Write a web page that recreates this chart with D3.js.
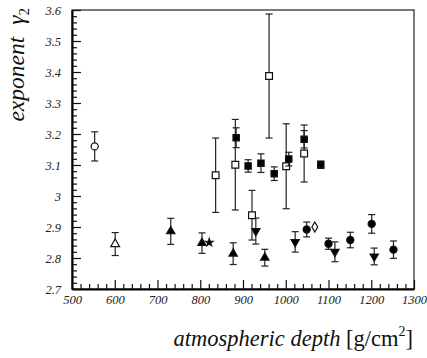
<!DOCTYPE html>
<html>
<head>
<meta charset="utf-8">
<script src="https://cdn.jsdelivr.net/npm/d3@7"></script>
<style>
body{margin:0;background:#fff;}
.tick text{font-family:"Liberation Serif",serif;font-style:italic;font-size:12.5px;fill:#222;}
</style>
</head>
<body>
<div class="canvas"></div>
<script>
// data: depth [g/cm2], exponent, error
const openCircleX=[553], openCircleY=[3.16], openCircleE=[0.047];
const openTriX=[601], openTriY=[2.845], openTriE=[0.037];
const filledTriX=[731,804,877,951], filledTriY=[2.886,2.848,2.814,2.801], filledTriE=[0.042,0.033,0.035,0.027];
const starX=[821], starY=[2.85];
const invTriX=[930,1022,1115,1207], invTriY=[2.887,2.852,2.82,2.805], invTriE=[0.042,0.033,0.032,0.027];
const filledCircX=[1049,1100,1151,1201,1252], filledCircY=[2.892,2.846,2.858,2.91,2.827], filledCircE=[0.024,0.018,0.025,0.03,0.028];
const diamondX=[1068], diamondY=[2.9];
const openSqX=[836,882,921,961,1001,1043], openSqY=[3.067,3.101,2.938,3.387,3.096,3.137], openSqE=[0.12,0.146,0.08,0.2,0.137,0.092];
const filledSqX=[884,912,942,973,1007,1043,1082], filledSqY=[3.188,3.097,3.106,3.072,3.119,3.183,3.101], filledSqE=[0.032,0.02,0.03,0.022,0.022,0.028,0.012];

const xTicks=[500,600,700,800,900,1000,1100,1200,1300];
const yTicks=[2.7,2.8,2.9,3,3.1,3.2,3.3,3.4,3.5,3.6];

const W=427,H=358;
const margin={top:10,right:13,bottom:69,left:72};
const gw=W-margin.left-margin.right, gh=H-margin.top-margin.bottom;

const svg=d3.select('.canvas').append('svg').attr('width',W).attr('height',H);
const graph=svg.append('g').attr('transform',`translate(${margin.left},${margin.top})`);

const x=d3.scaleLinear().domain([500,1300]).range([0,gw]);
const y=d3.scaleLinear().domain([2.7,3.6]).range([gh,0]);

// frame (top and right)
graph.append('rect').attr('width',gw).attr('height',gh)
  .attr('fill','none').attr('stroke','#333').attr('stroke-width',1.3);

// minor ticks
const xMinor=d3.range(500,1301,20).filter(v=>v%100!==0);
const yMinor=d3.range(270,361,2).map(v=>v/100).filter(v=>Math.round(v*100)%10!==0);
graph.append('g').attr('transform',`translate(0,${gh})`)
  .call(d3.axisBottom(x).tickValues(xMinor).tickSize(-5).tickFormat(''))
  .call(g=>g.select('.domain').remove());
graph.append('g')
  .call(d3.axisLeft(y).tickValues(yMinor).tickSize(-5).tickFormat(''))
  .call(g=>g.select('.domain').remove());

// major axes
const xAxisGroup=graph.append('g').attr('transform',`translate(0,${gh})`)
  .call(d3.axisBottom(x).tickValues(xTicks).tickSizeInner(-9).tickSizeOuter(0).tickPadding(6).tickFormat(d3.format('d')));
const yAxisGroup=graph.append('g')
  .call(d3.axisLeft(y).tickValues(yTicks).tickSizeInner(-9).tickSizeOuter(0).tickPadding(11).tickFormat(d=>d3.format('.1f')(d).replace(/\.0$/,'')));
[xAxisGroup,yAxisGroup].forEach(g=>{
  g.select('.domain').attr('stroke','#000').attr('stroke-width',2);
});
graph.selectAll('.tick line').attr('stroke','#111').attr('stroke-width',1.2);

function series(xs,ys,es,shape,size,fill,rot){
  const data=xs.map((v,i)=>({x:v,y:ys[i],e:es?es[i]:0}));
  const g=graph.append('g');
  if(es){
    const eb=g.selectAll('g.eb').data(data).enter().append('g')
      .attr('stroke','#222').attr('stroke-width',1.2);
    eb.append('line').attr('x1',d=>x(d.x)).attr('x2',d=>x(d.x))
      .attr('y1',d=>y(d.y-d.e)).attr('y2',d=>y(d.y+d.e));
    eb.append('line').attr('x1',d=>x(d.x)-3.5).attr('x2',d=>x(d.x)+3.5)
      .attr('y1',d=>y(d.y-d.e)).attr('y2',d=>y(d.y-d.e));
    eb.append('line').attr('x1',d=>x(d.x)-3.5).attr('x2',d=>x(d.x)+3.5)
      .attr('y1',d=>y(d.y+d.e)).attr('y2',d=>y(d.y+d.e));
  }
  g.selectAll('path').data(data).enter().append('path')
    .attr('d',d3.symbol().type(shape).size(size))
    .attr('transform',d=>`translate(${x(d.x)},${y(d.y)}) rotate(${rot||0})`)
    .attr('fill',fill).attr('stroke','#111').attr('stroke-width',1.2);
}

series(openCircleX,openCircleY,openCircleE,d3.symbolCircle,40,'#fff');
series(openTriX,openTriY,openTriE,d3.symbolTriangle,34,'#fff');
series(filledTriX,filledTriY,filledTriE,d3.symbolTriangle,30,'#000');
series(starX,starY,null,d3.symbolStar,18,'#000');
series(invTriX,invTriY,invTriE,d3.symbolTriangle,30,'#000',180);
series(filledCircX,filledCircY,filledCircE,d3.symbolCircle,40,'#000');
series(diamondX,diamondY,null,d3.symbolDiamond,29,'#fff');
series(openSqX,openSqY,openSqE,d3.symbolSquare,46,'#fff');
series(filledSqX,filledSqY,filledSqE,d3.symbolSquare,40,'#000');

// axis titles
svg.append('text').attr('x',413).attr('y',346).attr('text-anchor','end')
  .attr('font-family','Liberation Serif,serif').attr('font-size',22.5).attr('fill','#111')
  .html('<tspan font-style="italic">atmospheric depth</tspan> [g/cm<tspan dy="-10" font-size="14">2</tspan><tspan dy="10">]</tspan>');
svg.append('text').attr('transform','translate(24,8) rotate(-90)').attr('text-anchor','end')
  .attr('font-family','Liberation Serif,serif').attr('font-size',23.5).attr('fill','#111')
  .html('<tspan font-style="italic">exponent</tspan><tspan font-style="italic" dx="12">γ</tspan><tspan dy="5" font-size="15">2</tspan>');
</script>
</body>
</html>
